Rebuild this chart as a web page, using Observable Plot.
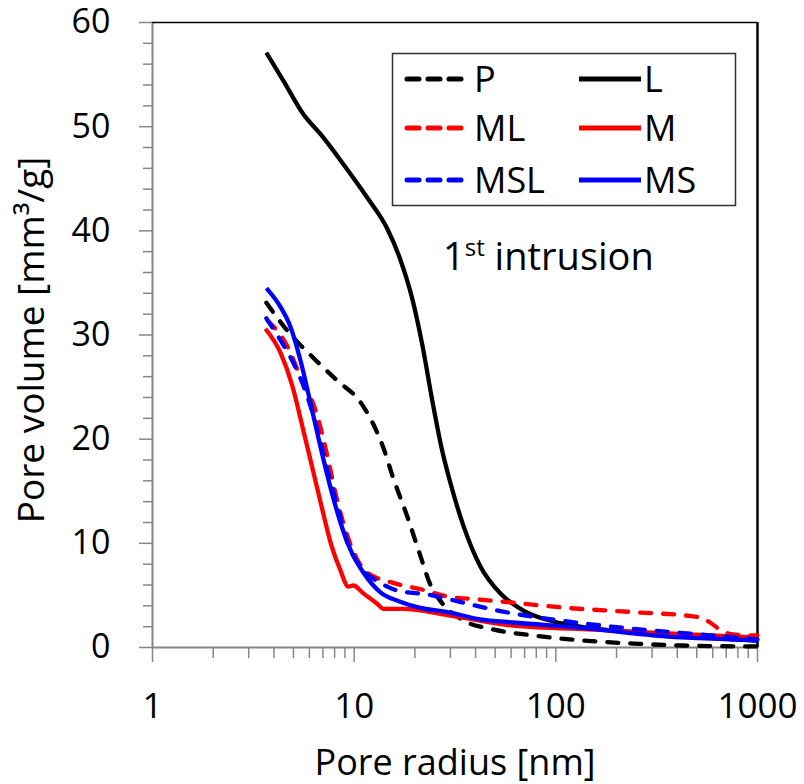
<!DOCTYPE html>
<html><head><meta charset="utf-8">
<script src="https://cdn.jsdelivr.net/npm/d3@7"></script>
<script src="https://cdn.jsdelivr.net/npm/@observablehq/plot@0.6"></script>
<style>
html,body{margin:0;padding:0;background:#fff;}
#wrap{position:relative;width:804px;height:784px;font-family:"Open Sans",sans-serif;}
#overlay{position:absolute;left:0;top:0;pointer-events:none;}
</style></head><body><div id="wrap"></div>
<script>
// ---- data (pore radius in nm, cumulative pore volume in mm3/g) ----
const P_r = [3.67,4.67,6.28,8.26,10.7,12.4,14.0,15.6,18.4,21.3,23.9,26.7,34.8,47.3,77.3,137,242,428,1000];
const P_v = [33.1,30.4,27.8,25.6,23.6,21.5,19.1,16.3,12.5,8.8,6.0,4.5,2.6,1.8,1.15,0.67,0.38,0.19,0.1];

const L_r = [3.67,4.46,5.60,6.80,8.84,11.6,14.6,16.9,19.4,21.8,24.4,27.1,30.3,34.8,42.2,53.0,69.0,97,132,294,1000];
const L_v = [57.1,54.4,51.2,49.3,46.4,43.2,40.2,37.3,33.5,29.0,23.7,19.2,15.5,11.7,7.8,5.2,3.55,2.5,2.0,1.34,0.67];

const ML_r = [3.72,4.67,5.41,6.5,7.3,8.15,9.15,10.2,11.6,15.6,21.3,29.0,42.2,61.5,114,242,519,582,653,757,1000];
const ML_v = [31.4,28.9,26.0,22.5,18.7,14.5,11.0,8.7,7.2,6.2,5.6,4.9,4.6,4.3,3.8,3.4,2.9,2.4,1.7,1.25,1.15];

const M_r = [3.63,4.31,4.94,5.54,6.21,6.96,7.71,8.55,9.36,9.91,11.1,13.0,14.0,17.5,29.0,61.5,166,357,1000];
const M_v = [30.6,28.3,25.1,21.2,17.2,13.2,9.8,7.4,5.85,5.95,5.2,4.2,3.7,3.7,3.1,2.1,1.7,1.35,0.96];

const MSL_r = [3.67,4.31,5.0,5.86,6.57,7.36,8.26,9.25,10.7,13.5,16.9,23.1,30.0,53,114,242,519,1000];
const MSL_v = [31.6,29.5,27.3,24.1,20.9,17.1,13.5,10.1,7.8,6.2,5.4,5.1,4.6,3.5,2.5,1.8,1.25,0.77];

const MS_r = [3.67,4.31,4.83,5.41,6.07,6.80,7.62,8.55,9.58,11.1,13.5,16.9,21.3,29.0,42.2,61.5,132,357,757,1000];
const MS_v = [34.5,32.7,30.8,27.6,23.5,19.3,15.4,12.0,9.4,7.2,5.3,4.4,3.8,3.4,2.7,2.4,1.9,1.05,0.77,0.67];

const seriesNames = ["P","L","ML","M","MSL","MS"];
const seriesColors = ["#000000","#000000","#ff0000","#ff0000","#0000ff","#0000ff"];
const seriesDashed = [true,false,true,false,true,false];

const xMajorTicks = [1,10,100,1000];
const xMinorTicks = [2,3,4,5,6,7,8,9,20,30,40,50,60,70,80,90,200,300,400,500,600,700,800,900];
const yMajorTicks = [0,10,20,30,40,50,60];
const yMinorTicks = [2,4,6,8,12,14,16,18,22,24,26,28,32,34,36,38,42,44,46,48,52,54,56,58];

const xTitle = "Pore radius [nm]";
const yTitle = "Pore volume [mm³/g]";
const noteMain = "1";
const noteSup = "st";
const noteRest = " intrusion";

// ---- build table ----
const rs = [P_r, L_r, ML_r, M_r, MSL_r, MS_r];
const vs = [P_v, L_v, ML_v, M_v, MSL_v, MS_v];
const rows = [];
seriesNames.forEach((s, i) => rs[i].forEach((r, j) => rows.push({s, r, v: vs[i][j]})));

const gray = "#868686";
const lineMarks = seriesNames.map((s, i) => Plot.line(rows.filter(d => d.s === s), {
  x: "r", y: "v", stroke: seriesColors[i], strokeWidth: 4.3, curve: "monotone-x",
  strokeDasharray: seriesDashed[i] ? "11,12" : null,
  strokeLinecap: seriesDashed[i] ? "round" : "butt", strokeLinejoin: "round"
}));

const chart = Plot.plot({
  width: 804, height: 784,
  marginLeft: 152, marginRight: 47, marginTop: 22, marginBottom: 137,
  style: {fontFamily: "'Open Sans', sans-serif", fontSize: "34px", background: "white", color: "black"},
  x: {type: "log", domain: [1, 1000]},
  y: {domain: [0, 60]},
  marks: [
    Plot.axisX({ticks: xMinorTicks, tickSize: 11, tickFormat: () => "", label: null, stroke: gray, strokeWidth: 1.5}),
    Plot.axisX({ticks: xMajorTicks, tickSize: 15, tickPadding: 31, tickFormat: d => String(d), label: null, stroke: gray, strokeWidth: 1.5, fill: "black", fontSize: 35}),
    Plot.axisY({ticks: yMinorTicks, tickSize: 9, tickFormat: () => "", label: null, stroke: gray, strokeWidth: 1.5}),
    Plot.axisY({ticks: yMajorTicks, tickSize: 13, tickPadding: 29, tickFormat: d => String(d), label: null, stroke: gray, strokeWidth: 1.5, fill: "black", fontSize: 34}),
    Plot.ruleY([0], {stroke: gray, strokeWidth: 2}),
    Plot.ruleX([1], {stroke: gray, strokeWidth: 2}),
    Plot.ruleY([60], {stroke: "black", strokeWidth: 1.5}),
    Plot.ruleX([1000], {stroke: "black", strokeWidth: 2.5}),
    ...lineMarks,
    Plot.text([xTitle], {text: d => d, frameAnchor: "bottom", textAnchor: "middle", dy: 127, fontSize: 36, fill: "black"}),
    Plot.text([yTitle], {text: d => d, frameAnchor: "left", textAnchor: "middle", dx: -120, dy: 5, rotate: -90, fontSize: 37, fill: "black"})
  ]
});
const wrap = document.getElementById("wrap");
wrap.appendChild(chart);

// ---- legend + annotation overlay ----
const ov = d3.select(wrap).append("svg").attr("id", "overlay").attr("width", 804).attr("height", 784)
  .style("font-family", "'Open Sans', sans-serif");
ov.append("rect").attr("x", 392.5).attr("y", 53.5).attr("width", 343).attr("height", 152)
  .attr("fill", "white").attr("stroke", "#333").attr("stroke-width", 1.5);
const rowY = [79, 128, 180];
seriesNames.forEach((s, i) => {
  const col = i % 2, row = Math.floor(i / 2);
  const x1 = col === 0 ? 407 : 579, x2 = col === 0 ? 461 : 641, tx = col === 0 ? 474 : 644;
  ov.append("line").attr("x1", x1).attr("x2", x2).attr("y1", rowY[row]).attr("y2", rowY[row])
    .attr("stroke", seriesColors[i]).attr("stroke-width", 5)
    .attr("stroke-dasharray", seriesDashed[i] ? "12,9" : null)
    .attr("stroke-linecap", seriesDashed[i] ? "round" : "butt");
  ov.append("text").attr("x", tx).attr("y", rowY[row]).attr("dy", "0.35em")
    .attr("font-size", 36).attr("fill", "black").text(s);
});
const note = ov.append("text").attr("x", 443).attr("y", 270).attr("font-size", 38).attr("fill", "black");
note.append("tspan").text(noteMain);
note.append("tspan").attr("dy", -14).attr("font-size", 24).text(noteSup);
note.append("tspan").attr("dy", 14).text(noteRest);
</script></body></html>
